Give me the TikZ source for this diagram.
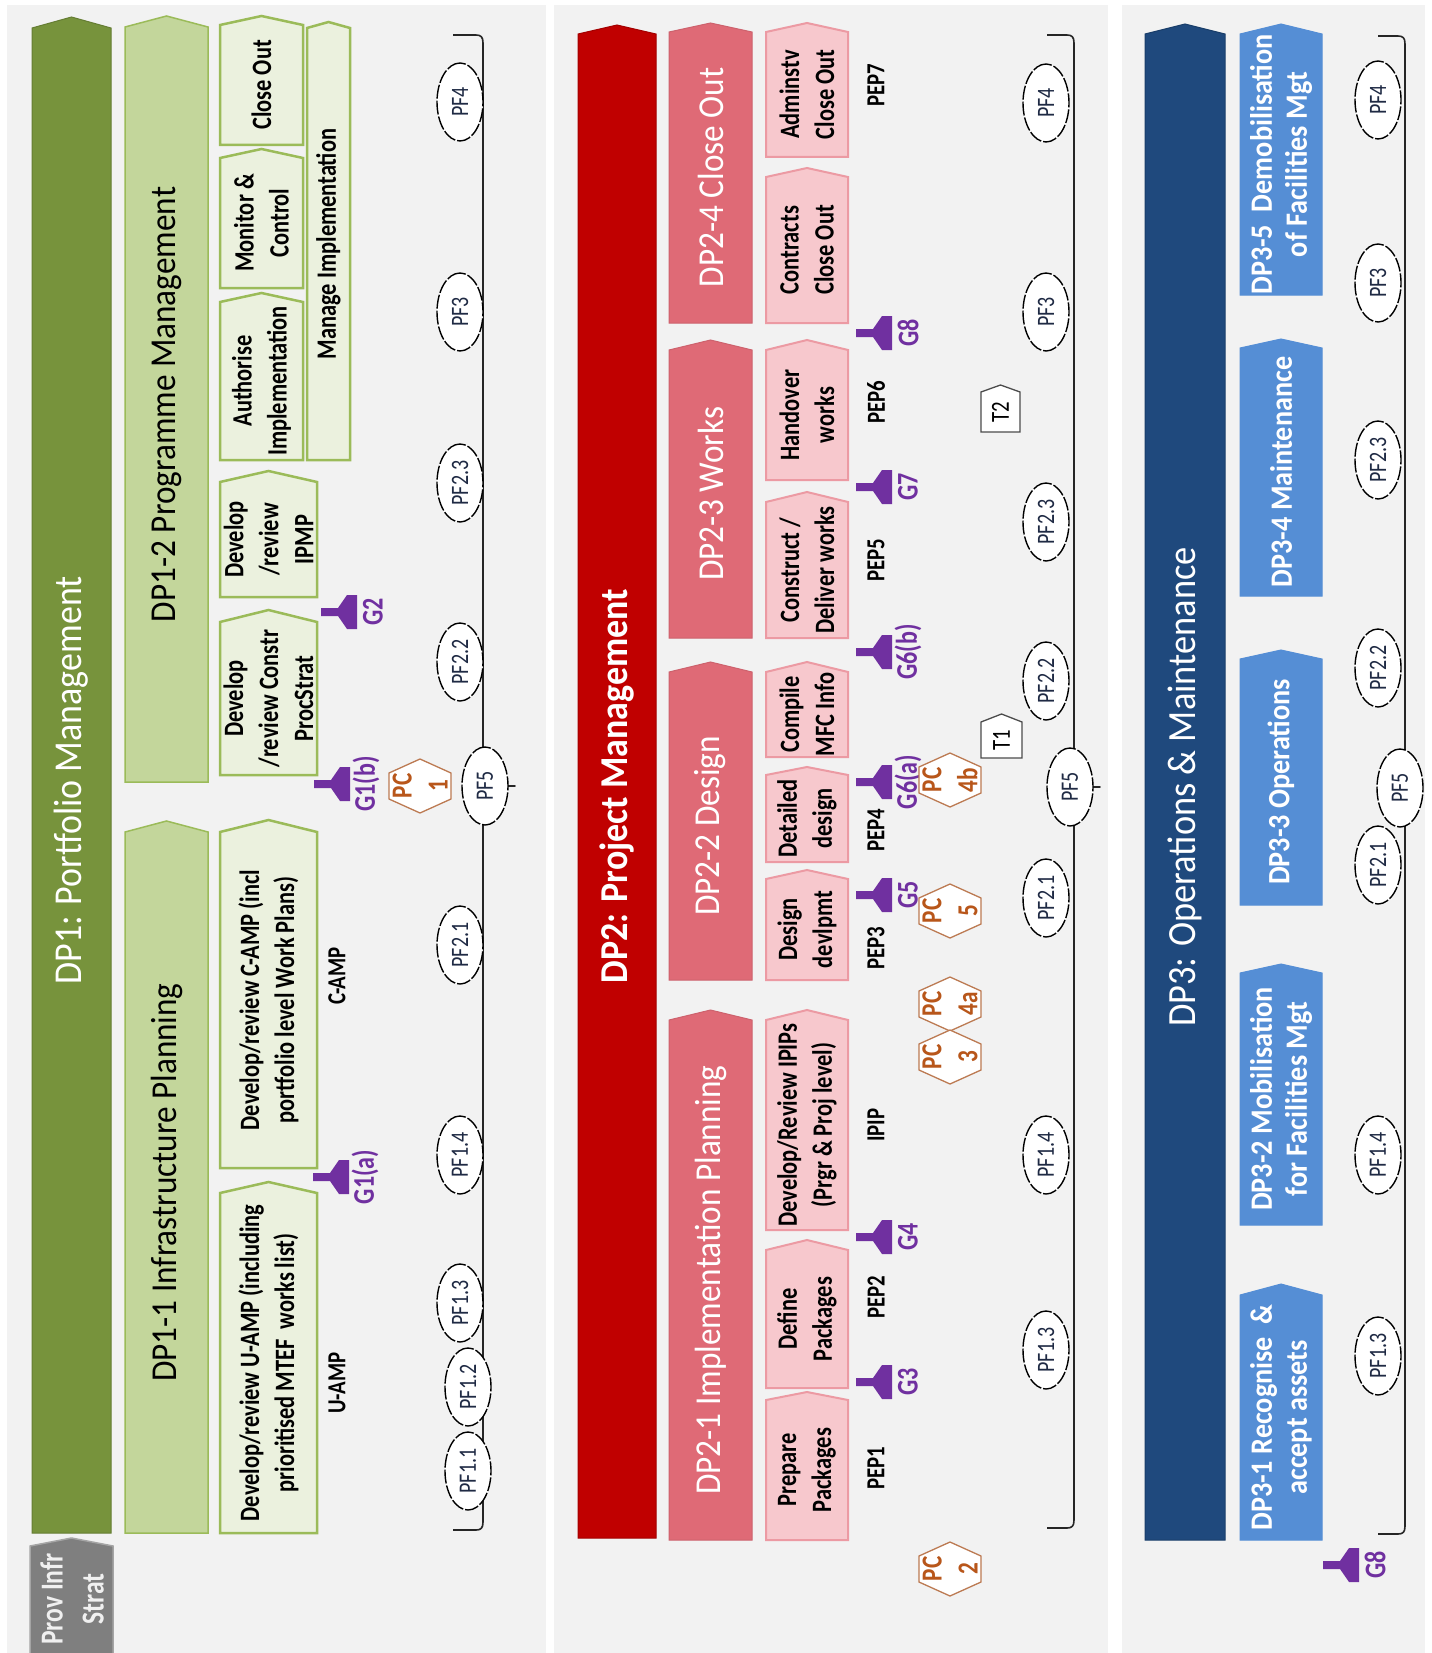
\documentclass[tikz,border=0pt]{standalone}
\usepackage{fontspec}
\setmainfont{Carlito}
\newfontfamily\headfont{Carlito}[FakeStretch=0.91]
\newfontfamily\narrowfont{Carlito}[FakeStretch=0.8]
\usetikzlibrary{shapes.geometric}

\definecolor{panelgray}{HTML}{F2F2F2}
\definecolor{dpgreen}{HTML}{77933C}
\definecolor{midgreen}{HTML}{C3D69B}
\definecolor{greenline}{HTML}{9BBB59}
\definecolor{palegreen}{HTML}{EBF1DE}
\definecolor{dpred}{HTML}{C00000}
\definecolor{midred}{HTML}{DF6A76}
\definecolor{palered}{HTML}{F7C8CD}
\definecolor{redline}{HTML}{EC9AA3}
\definecolor{dpblue}{HTML}{1F497D}
\definecolor{midblue}{HTML}{558ED5}
\definecolor{gatepurple}{HTML}{7030A0}
\definecolor{pcorange}{HTML}{B8561A}
\definecolor{pcline}{HTML}{BC7A52}
\definecolor{provgray}{HTML}{7F7F7F}
\definecolor{pftext}{HTML}{1F2A44}

% chevron-topped box: name, style, x-left, x-right, y-peak, y-shoulder, y-bottom
\newcommand{\chevbox}[7]{%
  \filldraw[#2] (#3,#6) -- ({(#3+#4)/2},#5) -- (#4,#6) -- (#4,#7) -- (#3,#7) -- cycle;
  \coordinate (#1) at ({(#3+#4)/2},{(#6+#7)/2});}

% gate marker: name, x of stem start, y, label
\newcommand{\gatemark}[4]{%
  \fill[gatepurple] (#2,#3-4) -- (#2+17,#3-4) -- (#2+26,#3-17) -- (#2+36,#3-17)
    -- (#2+36,#3+17) -- (#2+26,#3+17) -- (#2+17,#3+4) -- (#2,#3+4) -- cycle;
  \node[gatelabel] (#1) at (#2+52,#3) {#4};}

% PC hexagon: name, centre x, centre y, number
\newcommand{\pchex}[4]{%
  \filldraw[hexline] (#2,#3-27) -- (#2+31,#3-13) -- (#2+31,#3+13) -- (#2,#3+27)
    -- (#2-31,#3+13) -- (#2-31,#3-13) -- cycle;
  \node[hexlabel] (#1) at (#2,#3) {PC\\#4};}

% timeline bracket: prefix, x of hooks, x of spine, y top, y tip, y bottom, x of tip
\newcommand{\timeline}[7]{%
  \coordinate (#1-top) at (#2,#4);
  \coordinate (#1-tip) at (#7,#5);
  \coordinate (#1-bot) at (#2,#6);
  \draw[timebar] (#1-top) -- (#3-7,#4) .. controls (#3-2,#4) and (#3,#4+2) .. (#3,#4+8)
    -- (#3,#5-9) .. controls (#3,#5-3) and (#3+4,#5) .. (#1-tip)
    .. controls (#3+4,#5) and (#3,#5+3) .. (#3,#5+9)
    -- (#3,#6-8) .. controls (#3,#6-2) and (#3-2,#6) .. (#3-7,#6) -- (#1-bot);}

\begin{document}
\begin{tikzpicture}[x=1pt,y=-1pt,
  dpone/.style={fill=dpgreen, draw=dpgreen!85!black, line width=1pt},
  dponemid/.style={fill=midgreen, draw=greenline, line width=1.5pt},
  dponebox/.style={fill=palegreen, draw=greenline, line width=2.5pt},
  dptwo/.style={fill=dpred, draw=dpred!85!black, line width=1pt},
  dptwomid/.style={fill=midred, draw=midred!92!black, line width=1pt},
  dptwobox/.style={fill=palered, draw=redline, line width=2pt},
  dpthree/.style={fill=dpblue, draw=dpblue!85!black, line width=1pt},
  dpthreemid/.style={fill=midblue, draw=midblue, line width=1pt},
  provbox/.style={fill=provgray, draw=provgray!70!white, line width=1.5pt},
  tbox/.style={fill=white, draw=black!70, line width=1.3pt},
  hexline/.style={fill=white, draw=pcline, line width=1.3pt},
  vtext/.style={rotate=90, inner sep=0pt, align=center},
  bigtitle/.style={vtext, text=white, font=\headfont\fontsize{39.5}{47}\selectfont},
  midtitle/.style={vtext, font=\headfont\fontsize{36.5}{44}\selectfont},
  bluetitle/.style={vtext, text=white, font=\headfont\bfseries\fontsize{31}{35}\selectfont},
  boxtxt/.style={vtext, text=black, font=\narrowfont\bfseries\fontsize{28}{35}\selectfont},
  steptag/.style={vtext, text=black, font=\narrowfont\bfseries\fontsize{26}{30}\selectfont},
  gatelabel/.style={vtext, text=gatepurple, font=\narrowfont\bfseries\fontsize{30}{36}\selectfont},
  hexlabel/.style={vtext, text=pcorange, font=\narrowfont\bfseries\fontsize{29}{36}\selectfont},
  pf/.style={ellipse, draw=black, fill=white, line width=1.4pt, dash pattern=on 14pt off 2pt,
    minimum width=78pt, minimum height=46pt, inner sep=0pt, rotate=90, text=pftext,
    font=\narrowfont\fontsize{25}{30}\selectfont},
  tlabel/.style={vtext, font=\narrowfont\fontsize{26}{30}\selectfont},
  timebar/.style={draw=black!85, line width=1.6pt, line join=round},
]
% page and the three panels
\fill[white] (0,0) rectangle (1431,1653);
\useasboundingbox (0,0) rectangle (1431,1653);
\fill[panelgray] (7,5) rectangle (546,1653);
\fill[panelgray] (554,5) rectangle (1108,1653);
\fill[panelgray] (1122,5) rectangle (1425,1653);

% ================= DP1 =================
\chevbox{dp1}{dpone}{32}{111}{17}{28}{1533}
\node[bigtitle] (dp1t) at (dp1) {DP1: Portfolio Management};
\chevbox{dp12}{dponemid}{125}{208}{16}{27}{782}
\node[midtitle] (dp12t) at (dp12) {DP1-2 Programme Management};
\chevbox{dp11}{dponemid}{125}{208}{821}{832}{1533}
\node[midtitle] (dp11t) at (dp11) {DP1-1 Infrastructure Planning};

\chevbox{closeout}{dponebox}{220}{303}{16}{25}{145}
\node[boxtxt] (closeoutt) at (closeout) {Close Out};
\chevbox{monitor}{dponebox}{220}{303}{149}{158}{288}
\node[boxtxt] (monitort) at (monitor) {Monitor \&\\Control};
\chevbox{authorise}{dponebox}{220}{303}{293}{302}{460}
\node[boxtxt] (authoriset) at (authorise) {Authorise\\Implementation};
\chevbox{manage}{dponebox}{307}{350}{22}{28}{460}
\node[boxtxt] (managet) at (manage) {Manage Implementation};
\chevbox{ipmp}{dponebox}{220}{317}{471}{482}{597}
\node[boxtxt] (ipmpt) at (ipmp) {Develop\\/review\\IPMP};
\chevbox{procstrat}{dponebox}{220}{317}{610}{622}{775}
\node[boxtxt] (procstratt) at (procstrat) {Develop\\/review Constr\\ProcStrat};
\chevbox{camp}{dponebox}{220}{317}{820}{832}{1168}
\node[boxtxt] (campt) at (camp) {Develop/review C-AMP (incl\\portfolio level Work Plans)};
\chevbox{uamp}{dponebox}{220}{317}{1182}{1193}{1533}
\node[boxtxt] (uampt) at (uamp) {Develop/review U-AMP (including\\prioritised MTEF\ \ works list)};
\node[steptag] (camptag) at (337,976) {C-AMP};
\node[steptag] (uamptag) at (337,1383) {U-AMP};

\chevbox{prov}{provbox}{30}{113}{1538}{1546}{1664}
\node[vtext, text=black!6, font=\narrowfont\bfseries\fontsize{32}{41}\selectfont] (provt) at (72,1599) {Prov Infr\\Strat};

% timeline bracket and phases
\timeline{tla}{453}{483}{35}{786}{1530}{515}
\node[pf] (a-pf4)  at (460,102)  {PF4};
\node[pf] (a-pf3)  at (460,312)  {PF3};
\node[pf] (a-pf23) at (460,483)  {PF2.3};
\node[pf] (a-pf22) at (460,662)  {PF2.2};
\node[pf] (a-pf5)  at (485,786)  {PF5};
\node[pf] (a-pf21) at (460,945)  {PF2.1};
\node[pf] (a-pf14) at (460,1155) {PF1.4};
\node[pf] (a-pf13) at (460,1303) {PF1.3};
\node[pf] (a-pf12) at (468,1387) {PF1.2};
\node[pf] (a-pf11) at (468,1471) {PF1.1};

\gatemark{g2}{321}{612}{G2}
\gatemark{g1b}{314}{784}{G1(b)}
\gatemark{g1a}{313}{1177}{G1(a)}
\pchex{pc1}{420}{786}{1}

% ================= DP2 =================
\chevbox{dp2}{dptwo}{578}{656}{25}{34}{1538}
\node[bigtitle, font=\headfont\bfseries\fontsize{39.5}{47}\selectfont] (dp2t) at (dp2) {DP2: Project Management};
\chevbox{dp24}{dptwomid}{669}{752}{23}{32}{323}
\node[midtitle, text=white] (dp24t) at (dp24) {DP2-4 Close Out};
\chevbox{dp23}{dptwomid}{669}{752}{340}{350}{638}
\node[midtitle, text=white] (dp23t) at (dp23) {DP2-3 Works};
\chevbox{dp22}{dptwomid}{669}{752}{662}{672}{980}
\node[midtitle, text=white] (dp22t) at (dp22) {DP2-2 Design};
\chevbox{dp21}{dptwomid}{669}{752}{1010}{1020}{1540}
\node[midtitle, text=white] (dp21t) at (dp21) {DP2-1 Implementation Planning};

\chevbox{admin}{dptwobox}{766}{848}{23}{32}{157}
\node[boxtxt] (admint) at (admin) {Adminstv\\Close Out};
\chevbox{contr}{dptwobox}{766}{848}{168}{177}{323}
\node[boxtxt] (contrt) at (contr) {Contracts\\Close Out};
\chevbox{hand}{dptwobox}{766}{848}{340}{350}{480}
\node[boxtxt] (handt) at (hand) {Handover\\works};
\chevbox{constr}{dptwobox}{766}{848}{492}{502}{638}
\node[boxtxt] (constrt) at (constr) {Construct /\\Deliver works};
\chevbox{mfc}{dptwobox}{766}{848}{662}{672}{757}
\node[boxtxt] (mfct) at (mfc) {Compile\\MFC Info};
\chevbox{detail}{dptwobox}{766}{848}{767}{775}{862}
\node[boxtxt] (detailt) at (detail) {Detailed\\design};
\chevbox{devl}{dptwobox}{766}{848}{870}{879}{980}
\node[boxtxt] (devlt) at (devl) {Design\\devlpmt};
\chevbox{ipips}{dptwobox}{766}{848}{1010}{1020}{1230}
\node[boxtxt] (ipipst) at (ipips) {Develop/Review IPIPs\\(Prgr \& Proj level)};
\chevbox{define}{dptwobox}{766}{848}{1240}{1250}{1388}
\node[boxtxt] (definet) at (define) {Define\\Packages};
\chevbox{prep}{dptwobox}{766}{848}{1392}{1400}{1540}
\node[boxtxt] (prept) at (prep) {Prepare\\Packages};

\node[steptag] (pep7) at (876,85)   {PEP7};
\node[steptag] (pep6) at (876,402)  {PEP6};
\node[steptag] (pep5) at (876,560)  {PEP5};
\node[steptag] (pep4) at (876,830)  {PEP4};
\node[steptag] (pep3) at (876,948)  {PEP3};
\node[steptag] (ipip) at (876,1125) {IPIP};
\node[steptag] (pep2) at (876,1297) {PEP2};
\node[steptag] (pep1) at (876,1468) {PEP1};

\timeline{tlb}{1047}{1074}{35}{787}{1528}{1100}
\node[pf] (b-pf4)  at (1046,103)  {PF4};
\node[pf] (b-pf3)  at (1046,312)  {PF3};
\node[pf] (b-pf23) at (1046,522)  {PF2.3};
\node[pf] (b-pf22) at (1046,681)  {PF2.2};
\node[pf] (b-pf5)  at (1070,787)  {PF5};
\node[pf] (b-pf21) at (1046,898)  {PF2.1};
\node[pf] (b-pf14) at (1046,1155) {PF1.4};
\node[pf] (b-pf13) at (1046,1350) {PF1.3};

\gatemark{g8a}{856}{333}{G8}
\gatemark{g7}{856}{487}{G7}
\gatemark{g6b}{856}{652}{G6(b)}
\gatemark{g6a}{856}{782}{G6(a)}
\gatemark{g5}{856}{895}{G5}
\gatemark{g4}{856}{1237}{G4}
\gatemark{g3}{856}{1382}{G3}

\pchex{pc4b}{950}{780}{4b}
\pchex{pc5}{950}{911}{5}
\pchex{pc4a}{950}{1004}{4a}
\pchex{pc3}{950}{1057}{3}
\pchex{pc2}{950}{1569}{2}

\chevbox{tone}{tbox}{981}{1022}{714}{722}{758}
\node[tlabel] (tonet) at (tone) {T1};
\chevbox{ttwo}{tbox}{981}{1020}{385}{392}{432}
\node[tlabel] (ttwot) at (ttwo) {T2};

% ================= DP3 =================
\chevbox{dp3}{dpthree}{1145}{1225}{24}{34}{1540}
\node[bigtitle, font=\headfont\fontsize{40}{48}\selectfont] (dp3t) at (dp3) {DP3: Operations \& Maintenance};
\chevbox{dp35}{dpthreemid}{1240}{1322}{24}{34}{295}
\node[bluetitle] (dp35t) at (dp35) {DP3-5\ \ Demobilisation\\of Facilities Mgt};
\chevbox{dp34}{dpthreemid}{1240}{1322}{339}{348}{596}
\node[bluetitle] (dp34t) at (dp34) {DP3-4 Maintenance};
\chevbox{dp33}{dpthreemid}{1240}{1322}{650}{659}{905}
\node[bluetitle] (dp33t) at (dp33) {DP3-3 Operations};
\chevbox{dp32}{dpthreemid}{1240}{1322}{964}{973}{1225}
\node[bluetitle] (dp32t) at (dp32) {DP3-2 Mobilisation\\for Facilities Mgt};
\chevbox{dp31}{dpthreemid}{1240}{1322}{1284}{1295}{1540}
\node[bluetitle] (dp31t) at (dp31) {DP3-1 Recognise\ \ \&\\accept assets};

\timeline{tlc}{1378}{1405}{36}{788}{1534}{1420}
\node[pf] (c-pf4)  at (1378,100)  {PF4};
\node[pf] (c-pf3)  at (1378,283)  {PF3};
\node[pf] (c-pf23) at (1378,460)  {PF2.3};
\node[pf] (c-pf22) at (1378,668)  {PF2.2};
\node[pf] (c-pf5)  at (1400,788)  {PF5};
\node[pf] (c-pf21) at (1378,865)  {PF2.1};
\node[pf] (c-pf14) at (1378,1155) {PF1.4};
\node[pf] (c-pf13) at (1378,1356) {PF1.3};

\gatemark{g8b}{1323}{1565}{G8}
\end{tikzpicture}
\end{document}
